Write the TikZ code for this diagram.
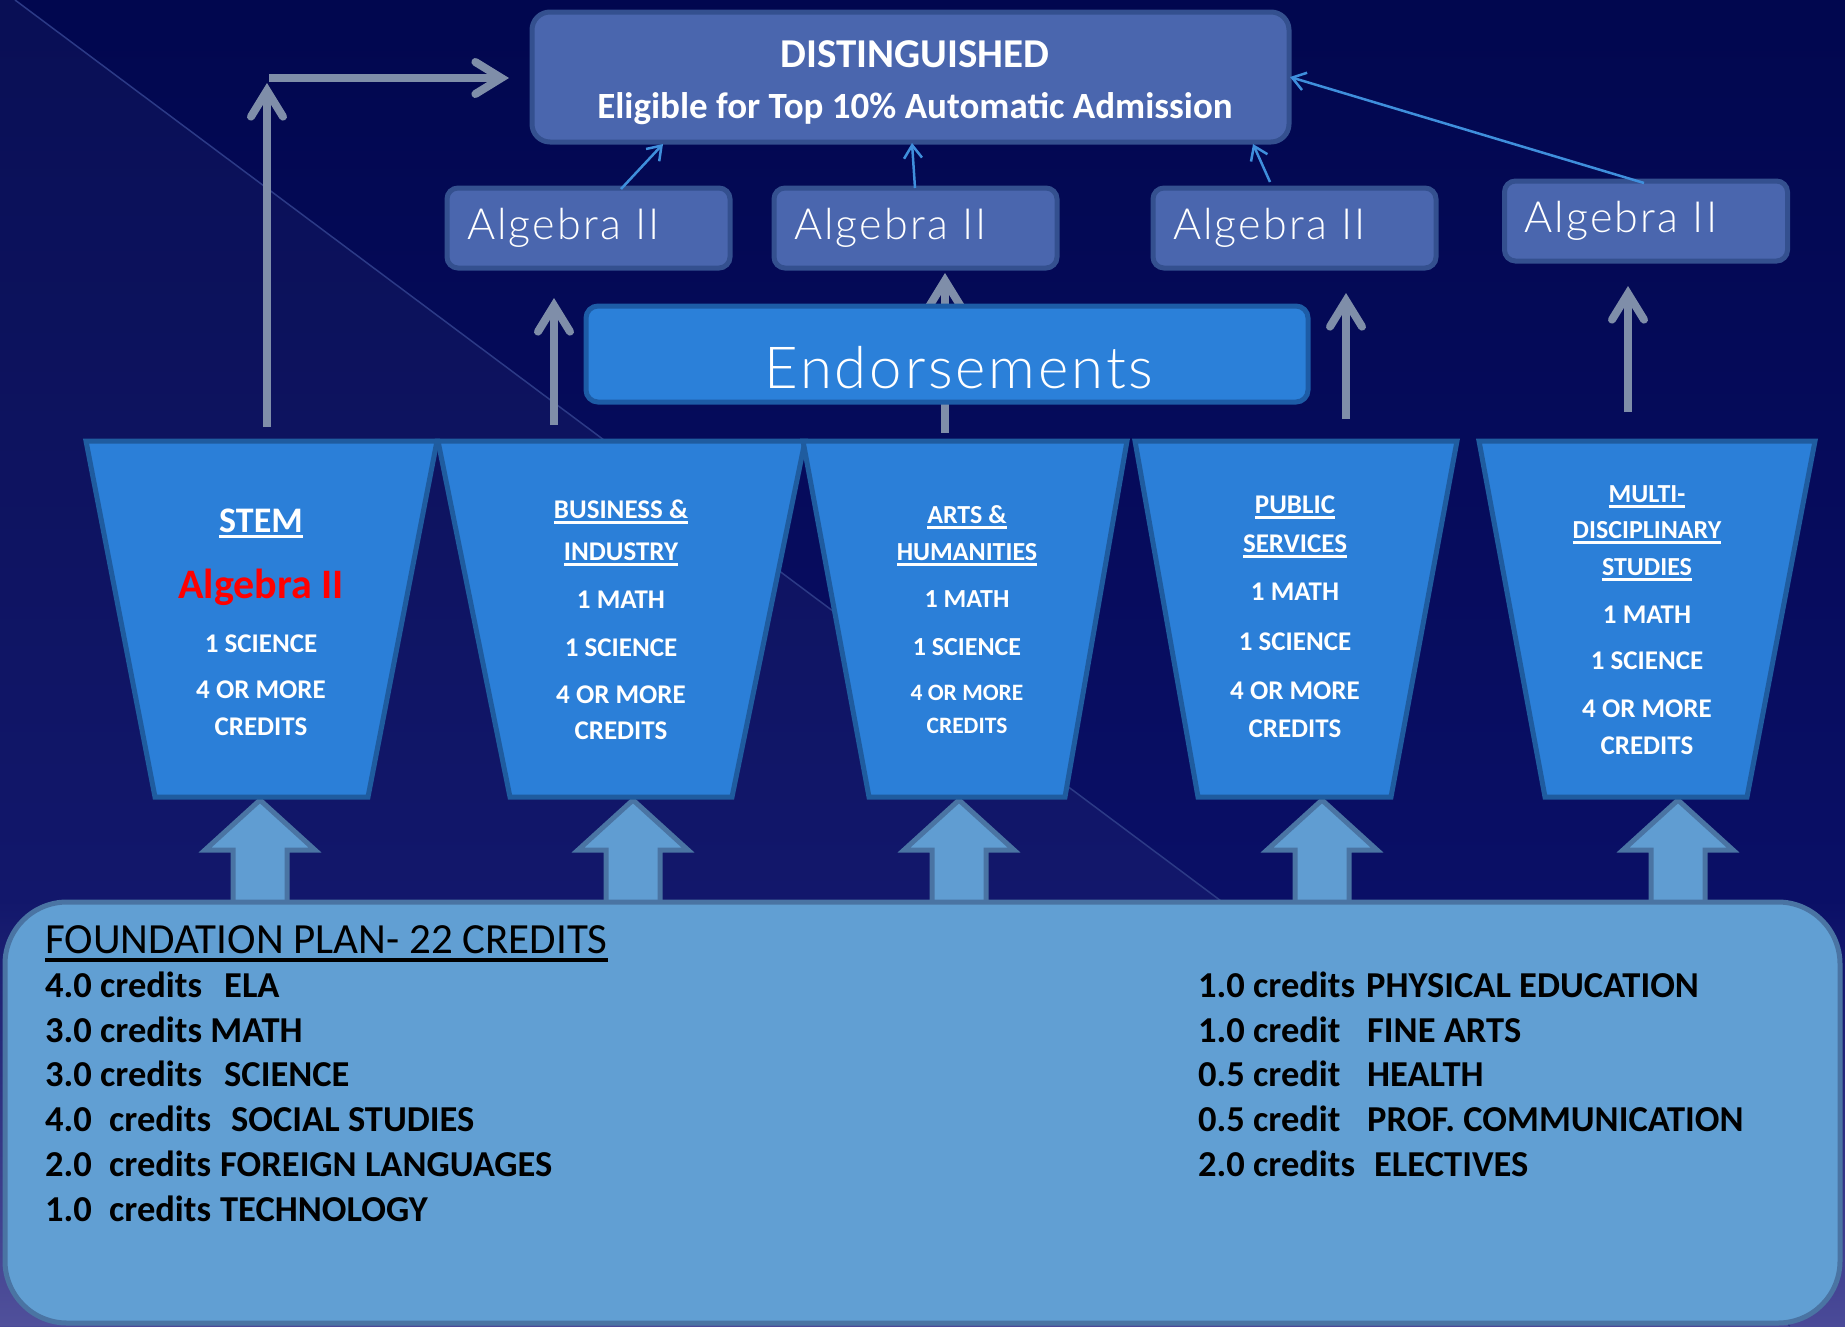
\documentclass[tikz,border=0pt]{standalone}
\usepackage{fontspec}
\setmainfont{Carlito}
\newfontfamily\lightfont{Lato Light}[LetterSpace=5]
\usetikzlibrary{arrows.meta}
\definecolor{bgtop}{HTML}{01074F}
\definecolor{bgmid}{HTML}{0A0F66}
\definecolor{bgbot}{HTML}{4A4A98}
\definecolor{diagline}{HTML}{2C3A86}
\definecolor{distfill}{HTML}{4A66AE}
\definecolor{distborder}{HTML}{34508F}
\definecolor{endfill}{HTML}{2B80D9}
\definecolor{endborder}{HTML}{1D5CA6}
\definecolor{trapfill}{HTML}{2B7FD8}
\definecolor{trapborder}{HTML}{1F5C9F}
\definecolor{grayarr}{HTML}{7F8EA9}
\definecolor{thinblue}{HTML}{3F8FDC}
\definecolor{blockfill}{HTML}{609DD2}
\definecolor{blockborder}{HTML}{4A74A3}
\definecolor{foundfill}{HTML}{619FD3}
\newcommand{\myul}[1]{\setbox0=\hbox{#1}\rlap{\copy0}\rule[-6pt]{\wd0}{2.6pt}}
\newcommand{\myulthick}[1]{\setbox0=\hbox{#1}\rlap{\copy0}\rule[-9pt]{\wd0}{4pt}}
\newcommand{\blockarrow}[1]{%
  \draw[blockarr] (#1,800) -- (#1+55,850) -- (#1+27,850) -- (#1+27,908) -- (#1-27,908) -- (#1-27,850) -- (#1-55,850) -- cycle;}
\begin{document}
\begin{tikzpicture}[x=1pt,y=-1pt,
  distbox/.style={draw=distborder,fill=distfill,line width=5pt,rounded corners=18pt},
  algbox/.style={draw=distborder,fill=distfill,line width=5pt,rounded corners=11pt,
    minimum width=283pt,minimum height=80pt,text width=243pt,align=left,inner xsep=20pt,
    text=white,font=\lightfont\fontsize{43}{48}\selectfont},
  endbox/.style={draw=endborder,fill=endfill,line width=5pt,rounded corners=12pt,
    minimum width=722pt,minimum height=96pt},
  trap/.style={draw=trapborder,fill=trapfill,line width=5pt},
  grayarrow/.style={draw=grayarr,line width=8pt,-{Straight Barb[length=26pt,width=32pt,line cap=round]}},
  thinarrow/.style={draw=thinblue,line width=2.5pt,-{Straight Barb[length=13pt,width=18pt]}},
  blockarr/.style={draw=blockborder,fill=blockfill,line width=5pt},
  found/.style={draw=blockborder,fill=foundfill,line width=5pt,rounded corners=62pt,
    minimum width=1835pt,minimum height=421pt},
  tt/.style={inner sep=0pt,anchor=base,text=white,font=\bfseries\fontsize{27}{32}\selectfont},
  tts/.style={tt,font=\bfseries\fontsize{23.5}{28}\selectfont},
  ft/.style={inner sep=0pt,anchor=base west,text=black,font=\bfseries\fontsize{36.5}{40}\selectfont}
]
\useasboundingbox (0,0) rectangle (1845,1326);
% background
\shade[top color=bgtop,bottom color=bgmid] (0,0) rectangle (1845,900);
\shade[top color=bgmid,bottom color=bgbot] (0,900) rectangle (1845,1326);
\fill[white,opacity=0.035] (15,0) -- (1790,1326) -- (0,1326) -- (0,0) -- cycle;
\draw[diagline,line width=1.5pt] (15,0) -- (1790,1326);

% gray arrows (drawn first, behind boxes)
\coordinate (g1s) at (267,427); \coordinate (g1t) at (267,83);
\coordinate (g1h) at (269,78);  \coordinate (g1e) at (509,78);
\coordinate (g2s) at (554,425); \coordinate (g2t) at (554,298);
\coordinate (g3s) at (945,433); \coordinate (g3t) at (945,273);
\coordinate (g4s) at (1346,419); \coordinate (g4t) at (1346,293);
\coordinate (g5s) at (1628,412); \coordinate (g5t) at (1628,286);
\draw[grayarrow] (g1s) -- (g1t);
\draw[grayarrow] (g1h) -- (g1e);
\draw[grayarrow] (g2s) -- (g2t);
\draw[grayarrow] (g3s) -- (g3t);
\draw[grayarrow] (g4s) -- (g4t);
\draw[grayarrow] (g5s) -- (g5t);

% top box
\node[distbox,minimum width=757pt,minimum height=130pt] (dist) at (910.5,77) {};
\node[tt,font=\bfseries\fontsize{41}{45}\selectfont] (distt) at (915,67) {DISTINGUISHED};
\node[tt,font=\bfseries\fontsize{37}{42}\selectfont] (elig) at (915,118) {Eligible for Top 10\% Automatic Admission};

% algebra boxes
\node[algbox] (alg1) at (588.5,228) {Algebra II};
\node[algbox] (alg2) at (915.5,228) {Algebra II};
\node[algbox] (alg3) at (1294.5,228) {Algebra II};
\node[algbox] (alg4) at (1646,221) {Algebra II};

% thin arrows
\coordinate (b1s) at (621,189); \coordinate (b1t) at (663,144);
\coordinate (b2s) at (915,188); \coordinate (b2t) at (912,143);
\coordinate (b3s) at (1270,182); \coordinate (b3t) at (1253,144);
\coordinate (b4s) at (1644,183); \coordinate (b4t) at (1290,77);
\draw[thinarrow] (b1s) -- (b1t);
\draw[thinarrow] (b2s) -- (b2t);
\draw[thinarrow] (b3s) -- (b3t);
\draw[thinarrow] (b4s) -- (b4t);

% endorsements
\node[endbox] (endo) at (947,354) {};
\node[inner sep=0pt,anchor=base,text=white,font=\lightfont\fontsize{58}{64}\selectfont] (endot) at (959,388) {Endorsements};

% block arrows
\blockarrow{260}
\blockarrow{633}
\blockarrow{959}
\blockarrow{1322}
\blockarrow{1678}

% trapezoids
\draw[trap] (86,441) -- (437,441) -- (368,797) -- (155,797) -- cycle;
\draw[trap] (438,441) -- (805,441) -- (732,797) -- (510,797) -- cycle;
\draw[trap] (803,441) -- (1127,441) -- (1065,797) -- (869,797) -- cycle;
\draw[trap] (1135,441) -- (1457,441) -- (1391,797) -- (1198,797) -- cycle;
\draw[trap] (1479,441) -- (1815,441) -- (1747,797) -- (1545,797) -- cycle;

% STEM
\node[tt,font=\bfseries\fontsize{36}{40}\selectfont] (s1) at (261,532) {\myul{STEM}};
\node[tt,text=red,font=\bfseries\fontsize{42}{46}\selectfont] (s2) at (261,598) {Algebra II};
\node[tt] (s3) at (261,652) {1 SCIENCE};
\node[tt] (s4) at (261,698) {4 OR MORE};
\node[tt] (s5) at (261,735) {CREDITS};
% BUSINESS
\node[tt] (bu1) at (621,518) {\myul{BUSINESS \&}};
\node[tt] (bu2) at (621,560) {\myul{INDUSTRY}};
\node[tt] (bu3) at (621,608) {1 MATH};
\node[tt] (bu4) at (621,656) {1 SCIENCE};
\node[tt] (bu5) at (621,703) {4 OR MORE};
\node[tt] (bu6) at (621,739) {CREDITS};
% ARTS
\node[tts,font=\bfseries\fontsize{26}{30}\selectfont] (ar1) at (967,523) {\myul{ARTS \&}};
\node[tts,font=\bfseries\fontsize{26}{30}\selectfont] (ar2) at (967,560) {\myul{HUMANITIES}};
\node[tts,font=\bfseries\fontsize{26}{30}\selectfont] (ar3) at (967,607) {1 MATH};
\node[tts,font=\bfseries\fontsize{26}{30}\selectfont] (ar4) at (967,655) {1 SCIENCE};
\node[tts] (ar5) at (967,700) {4 OR MORE};
\node[tts] (ar6) at (967,733) {CREDITS};
% PUBLIC
\node[tt] (pu1) at (1295,513) {\myul{PUBLIC}};
\node[tt] (pu2) at (1295,552) {\myul{SERVICES}};
\node[tt] (pu3) at (1295,600) {1 MATH};
\node[tt] (pu4) at (1295,650) {1 SCIENCE};
\node[tt] (pu5) at (1295,699) {4 OR MORE};
\node[tt] (pu6) at (1295,737) {CREDITS};
% MULTI
\node[tt,font=\bfseries\fontsize{26}{30}\selectfont] (mu1) at (1647,502) {\myul{MULTI-}};
\node[tt,font=\bfseries\fontsize{26}{30}\selectfont] (mu2) at (1647,538) {\myul{DISCIPLINARY}};
\node[tt,font=\bfseries\fontsize{26}{30}\selectfont] (mu3) at (1647,575) {\myul{STUDIES}};
\node[tt] (mu4) at (1647,623) {1 MATH};
\node[tt] (mu5) at (1647,669) {1 SCIENCE};
\node[tt] (mu6) at (1647,717) {4 OR MORE};
\node[tt] (mu7) at (1647,754) {CREDITS};

% foundation
\node[found] (found) at (922.5,1112.5) {};
\node[ft,font=\fontsize{43}{47}\selectfont] (fh) at (45,953) {\myulthick{FOUNDATION PLAN- 22 CREDITS}};
\node[ft] (l1) at (45,997)  {\makebox[179pt][l]{4.0 credits}ELA};
\node[ft] (l2) at (45,1042) {3.0 credits MATH};
\node[ft] (l3) at (45,1086) {\makebox[179pt][l]{3.0 credits}SCIENCE};
\node[ft] (l4) at (45,1131) {\makebox[64pt][l]{4.0}\makebox[122pt][l]{credits}SOCIAL STUDIES};
\node[ft] (l5) at (45,1176) {\makebox[64pt][l]{2.0}\makebox[111pt][l]{credits}FOREIGN LANGUAGES};
\node[ft] (l6) at (45,1221) {\makebox[64pt][l]{1.0}\makebox[111pt][l]{credits}TECHNOLOGY};
\node[ft] (r1) at (1198,997)  {\makebox[168pt][l]{1.0 credits}PHYSICAL EDUCATION};
\node[ft] (r2) at (1198,1042) {\makebox[169pt][l]{1.0 credit}FINE ARTS};
\node[ft] (r3) at (1198,1086) {\makebox[169pt][l]{0.5 credit}HEALTH};
\node[ft] (r4) at (1198,1131) {\makebox[169pt][l]{0.5 credit}PROF. COMMUNICATION};
\node[ft] (r5) at (1198,1176) {\makebox[176pt][l]{2.0 credits}ELECTIVES};
\end{tikzpicture}
\end{document}
